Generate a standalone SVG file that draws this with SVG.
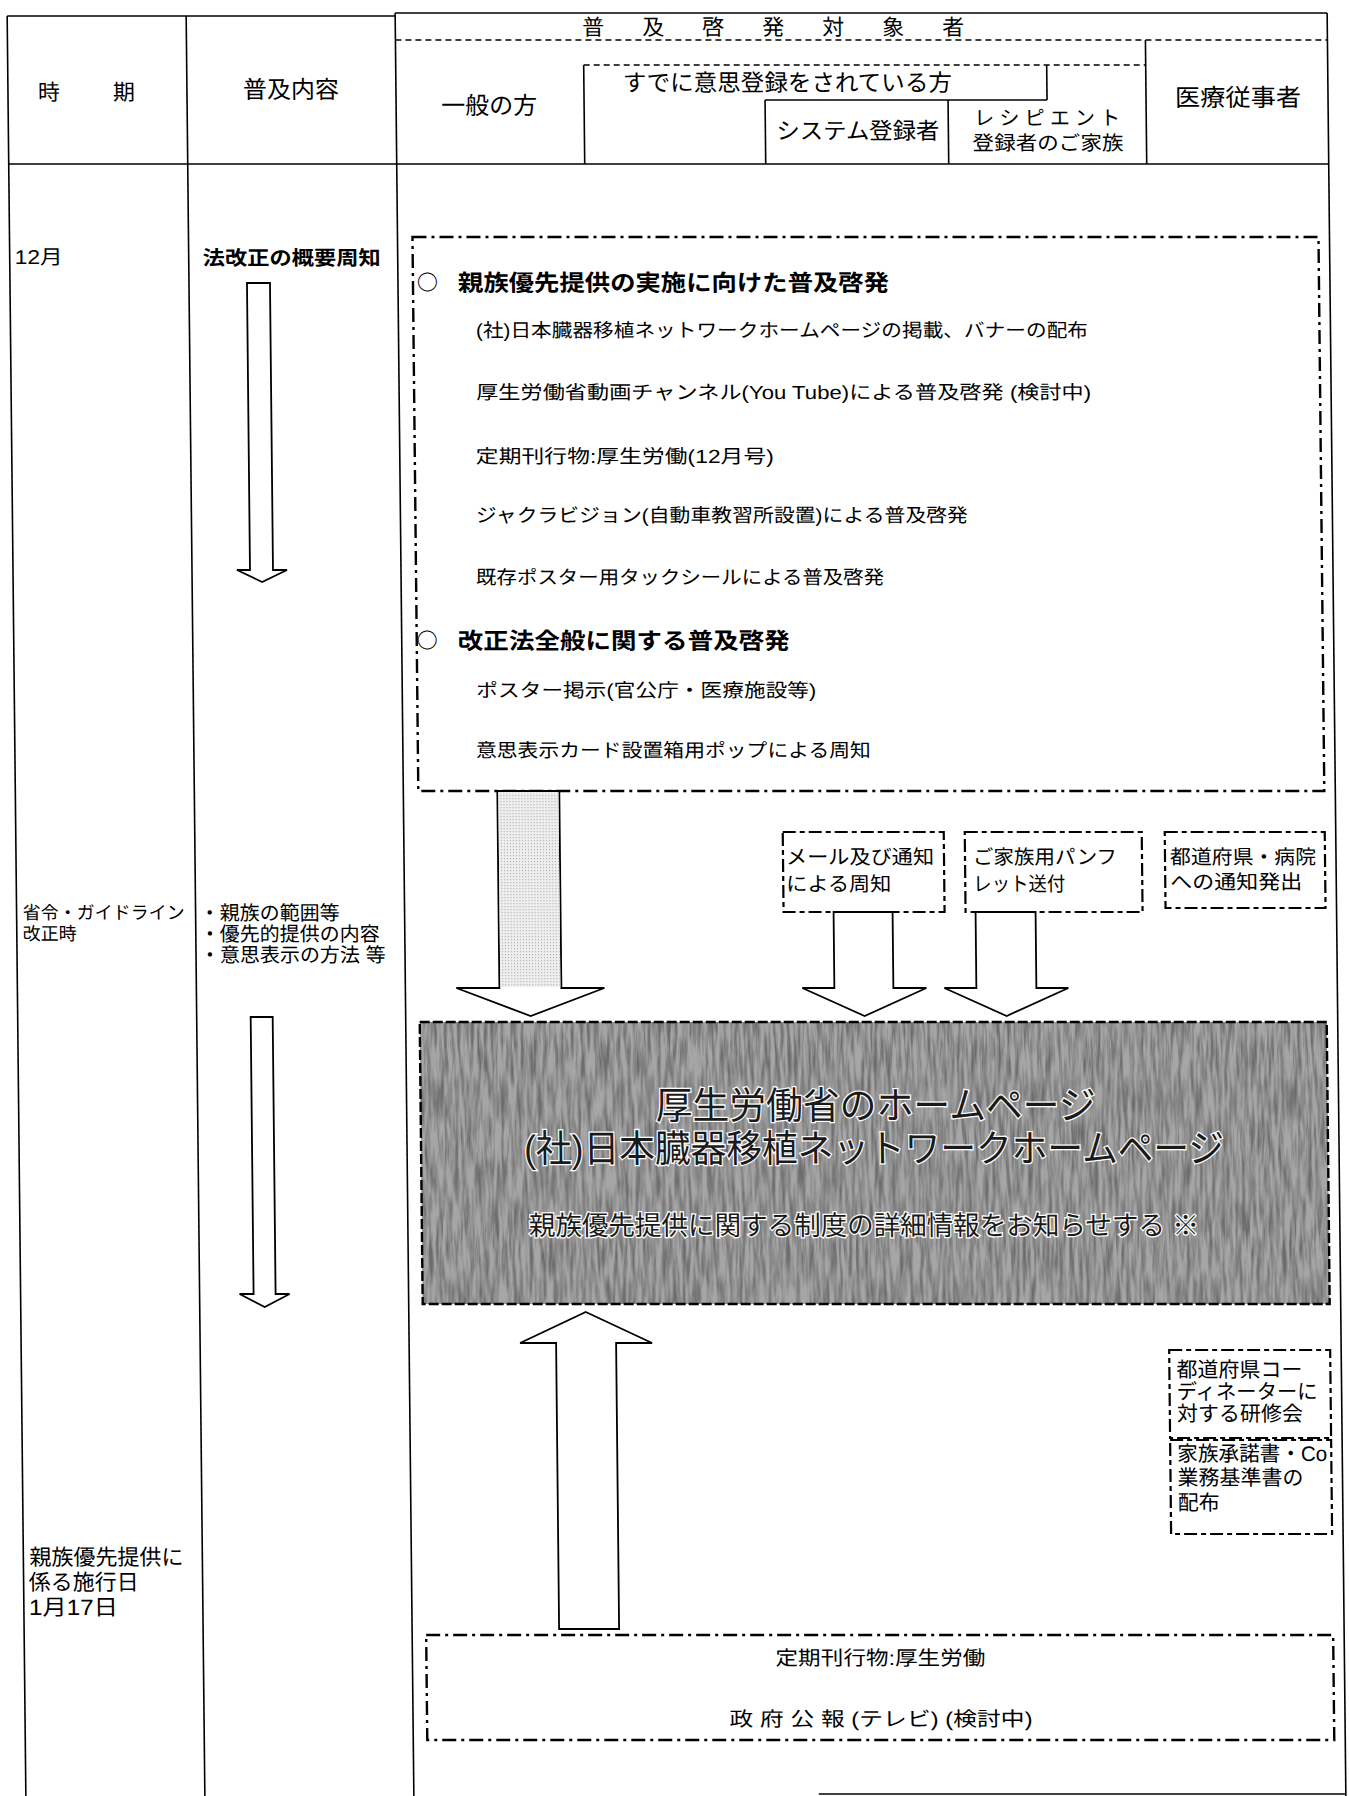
<svg xmlns="http://www.w3.org/2000/svg" width="1349" height="1796" viewBox="0 0 1349 1796">
<defs>
<style>
.t{font-family:'Liberation Sans','Noto Sans CJK JP',sans-serif;fill:#000}
.b{font-weight:bold}
.cj{font-family:'Noto Sans CJK JP',sans-serif}
.grid{stroke:#000;stroke-width:1.6;fill:none}
.hd{stroke:#000;stroke-width:1.5;fill:none;stroke-dasharray:6 4}
.dd{stroke:#000;stroke-width:2.4;fill:none;stroke-dasharray:14 5 3 5}
.sd{stroke:#000;stroke-width:2.2;fill:#fff;stroke-dasharray:13 4 5 4}
.arrow{stroke:#000;stroke-width:1.8;fill:#fff}
.gt{font-family:'Liberation Sans','Noto Sans CJK JP',sans-serif;fill:#1a1a1a;stroke:#fff;stroke-width:2.5;paint-order:stroke}
</style>
<pattern id="stip" width="3" height="3" patternUnits="userSpaceOnUse"><rect width="3" height="3" fill="#eeeeee"/><rect width="1" height="1" fill="#a8a8a8"/></pattern>
<filter id="grunge" x="0" y="0" width="1" height="1">
<feTurbulence type="fractalNoise" baseFrequency="0.3 0.025" numOctaves="3" seed="7" result="n"/>
<feColorMatrix in="n" type="matrix" values="0 0 0 0 0.15  0 0 0 0 0.15  0 0 0 0 0.15  2.6 0 0 0 -0.95" result="d"/>
<feComposite in="d" in2="SourceGraphic" operator="in"/>
</filter>
</defs>
<rect width="1349" height="1796" fill="#fff"/>
<g transform="matrix(1 0 0.0105 1 0 0)">
<g id="table">
<line class="grid" x1="7" y1="16" x2="395" y2="16"/>
<line class="grid" x1="395" y1="13" x2="1327" y2="13"/>
<line class="grid" x1="7" y1="16" x2="7" y2="1800"/>
<line class="grid" x1="186" y1="16" x2="186" y2="1800"/>
<line class="grid" x1="395" y1="13" x2="395" y2="1800"/>
<line class="grid" x1="1327" y1="13" x2="1327" y2="1800"/>
<line class="grid" x1="7" y1="164" x2="1327" y2="164"/>
<line class="grid" x1="800" y1="1794" x2="1327" y2="1794"/>
<line class="hd" x1="395" y1="40" x2="1327" y2="40"/>
<line class="hd" x1="583" y1="65" x2="1145" y2="65"/>
<line class="grid" x1="583" y1="65" x2="583" y2="164"/>
<line class="grid" x1="1046" y1="65" x2="1046" y2="100"/>
<line class="grid" x1="764" y1="100" x2="1046" y2="100"/>
<line class="grid" x1="764" y1="100" x2="764" y2="164"/>
<line class="grid" x1="947" y1="100" x2="947" y2="164"/>
<line class="grid" x1="1145" y1="40" x2="1145" y2="164"/>
</g>
<g id="header-text">
<text class="t" x="37" y="100" font-size="22" letter-spacing="3">時　　期</text>
<text class="t" x="290" y="98" font-size="24" text-anchor="middle">普及内容</text>
<text class="t" x="582 642 702 762 822 882 942" y="35" font-size="22">普及啓発対象者</text>
<text class="t" x="488" y="114" font-size="24" text-anchor="middle">一般の方</text>
<text class="t" x="622" y="91" font-size="23.5" textLength="329" lengthAdjust="spacingAndGlyphs">すでに意思登録をされている方</text>
<text class="t" x="775" y="139" font-size="23" textLength="163" lengthAdjust="spacingAndGlyphs">システム登録者</text>
<text class="t" x="973" y="125" font-size="20" textLength="146" lengthAdjust="spacing">レシピエント</text>
<text class="t" x="971" y="150" font-size="20" textLength="151" lengthAdjust="spacingAndGlyphs">登録者のご家族</text>
<text class="t" x="1174" y="106" font-size="24" textLength="126" lengthAdjust="spacingAndGlyphs">医療従事者</text>
</g>
<g id="period-col">
<text class="t" x="12" y="264" font-size="20" textLength="48" lengthAdjust="spacingAndGlyphs">12月</text>
<text class="t" x="13" y="919" font-size="18" textLength="162" lengthAdjust="spacingAndGlyphs">省令・ガイドライン</text>
<text class="t" x="13" y="940" font-size="18">改正時</text>
<text class="t" x="13" y="1565" font-size="22" textLength="154" lengthAdjust="spacingAndGlyphs">親族優先提供に</text>
<text class="t" x="12" y="1590" font-size="22">係る施行日</text>
<text class="t" x="12" y="1615" font-size="22" textLength="89" lengthAdjust="spacingAndGlyphs">1月17日</text>
</g>
<g id="content-col">
<text class="t b" x="200" y="265" font-size="20" textLength="178" lengthAdjust="spacingAndGlyphs">法改正の概要周知</text>
<text class="t" x="190" y="920" font-size="20">・親族の範囲等</text>
<text class="t" x="190" y="941" font-size="20">・優先的提供の内容</text>
<text class="t" x="190" y="962" font-size="20">・意思表示の方法 等</text>
</g>
<g id="box-campaign">
<rect class="dd" x="410" y="237" width="906" height="554" fill="none"/>
<text class="t cj b" x="414" y="290" font-size="21">○</text>
<text class="t b" x="455" y="291" font-size="23" textLength="431" lengthAdjust="spacingAndGlyphs">親族優先提供の実施に向けた普及啓発</text>
<text class="t" x="472.5" y="337" font-size="19" textLength="612" lengthAdjust="spacingAndGlyphs">(社)日本臓器移植ネットワークホームページの掲載、バナーの配布</text>
<text class="t" x="472" y="399" font-size="19" textLength="615" lengthAdjust="spacingAndGlyphs">厚生労働省動画チャンネル(You Tube)による普及啓発 (検討中)</text>
<text class="t" x="471" y="463" font-size="19" textLength="298" lengthAdjust="spacingAndGlyphs">定期刊行物:厚生労働(12月号)</text>
<text class="t" x="470.5" y="522" font-size="19" textLength="492" lengthAdjust="spacingAndGlyphs">ジャクラビジョン(自動車教習所設置)による普及啓発</text>
<text class="t" x="470" y="584" font-size="19" textLength="408" lengthAdjust="spacingAndGlyphs">既存ポスター用タックシールによる普及啓発</text>
<text class="t cj b" x="410" y="648" font-size="21">○</text>
<text class="t b" x="451" y="649" font-size="23" textLength="332" lengthAdjust="spacingAndGlyphs">改正法全般に関する普及啓発</text>
<text class="t" x="469" y="697" font-size="19" textLength="340" lengthAdjust="spacingAndGlyphs">ポスター掲示(官公庁・医療施設等)</text>
<text class="t" x="468" y="757" font-size="19" textLength="395" lengthAdjust="spacingAndGlyphs">意思表示カード設置箱用ポップによる周知</text>
</g>
<g id="box-mail">
<rect class="sd" x="774" y="832" width="161" height="80"/>
<text class="t" x="777" y="864" font-size="20" textLength="148" lengthAdjust="spacingAndGlyphs">メール及び通知</text>
<text class="t" x="777" y="891" font-size="20" textLength="105" lengthAdjust="spacingAndGlyphs">による周知</text>
</g>
<g id="box-pamphlet">
<rect class="sd" x="956" y="832" width="177" height="80"/>
<text class="t" x="964" y="864" font-size="20" textLength="144" lengthAdjust="spacingAndGlyphs">ご家族用パンフ</text>
<text class="t" x="964" y="891" font-size="20" textLength="92" lengthAdjust="spacingAndGlyphs">レット送付</text>
</g>
<g id="box-notice">
<rect class="sd" x="1156" y="832" width="160" height="76"/>
<text class="t" x="1161" y="864" font-size="20" textLength="146" lengthAdjust="spacingAndGlyphs">都道府県・病院</text>
<text class="t" x="1161" y="889" font-size="20" textLength="132" lengthAdjust="spacingAndGlyphs">への通知発出</text>
</g>
<g id="box-homepage">
<rect x="409" y="1022" width="907" height="282" fill="#a6a6a6"/>
<rect x="409" y="1022" width="907" height="282" fill="#000" filter="url(#grunge)"/>
<rect x="409" y="1022" width="907" height="282" fill="none" stroke="#000" stroke-width="2.4" stroke-dasharray="10 3"/>
<text class="gt" x="864" y="1119" font-size="38" text-anchor="middle" textLength="440" lengthAdjust="spacingAndGlyphs">厚生労働省のホームページ</text>
<text class="gt" x="862" y="1162" font-size="38" text-anchor="middle" textLength="700" lengthAdjust="spacingAndGlyphs">(社)日本臓器移植ネットワークホームページ</text>
<text class="gt" x="851" y="1235" font-size="27" text-anchor="middle" textLength="670" lengthAdjust="spacingAndGlyphs">親族優先提供に関する制度の詳細情報をお知らせする ※</text>
</g>
<g id="box-training">
<rect class="sd" x="1155" y="1350" width="161" height="88"/>
<text class="t" x="1162" y="1377" font-size="21">都道府県コー</text>
<text class="t" x="1162" y="1399" font-size="21" textLength="141" lengthAdjust="spacingAndGlyphs">ディネーターに</text>
<text class="t" x="1162" y="1421" font-size="21">対する研修会</text>
</g>
<g id="box-documents">
<rect class="sd" x="1155" y="1440" width="161" height="94"/>
<text class="t" x="1162" y="1461" font-size="21" textLength="150" lengthAdjust="spacingAndGlyphs">家族承諾書・Co</text>
<text class="t" x="1162" y="1485" font-size="21">業務基準書の</text>
<text class="t" x="1162" y="1510" font-size="21">配布</text>
</g>
<g id="box-publications">
<rect class="dd" x="409" y="1635" width="907" height="105" fill="none"/>
<text class="t" x="863" y="1665" font-size="20" text-anchor="middle" textLength="210" lengthAdjust="spacingAndGlyphs">定期刊行物:厚生労働</text>
<text class="t" x="863" y="1726" font-size="20" text-anchor="middle" textLength="303" lengthAdjust="spacingAndGlyphs">政 府 公 報 (テレビ) (検討中)</text>
</g>
<g id="connectors">
<polygon class="arrow" points="244,283 267,283 267,570 281,570 256,582 231,570 244,570"/>
<polygon class="arrow" points="240,1017 262,1017 262,1294 276,1294 251,1307 226,1294 240,1294"/>
<polygon class="arrow" points="489,791 551,791 551,988 594,988 520,1016 446,988 489,988"/>
<rect x="490" y="792.5" width="60" height="194.5" fill="url(#stip)"/>
<polygon class="arrow" points="824,912 883,912 883,988 916,988 854,1016 792,988 824,988"/>
<polygon class="arrow" points="966,912 1026,912 1026,988 1058,988 996,1016 934,988 966,988"/>
<polygon class="arrow" points="572,1312 638,1343 602,1343 602,1629 542,1629 542,1343 506,1343"/>
</g>
</g>
</svg>
